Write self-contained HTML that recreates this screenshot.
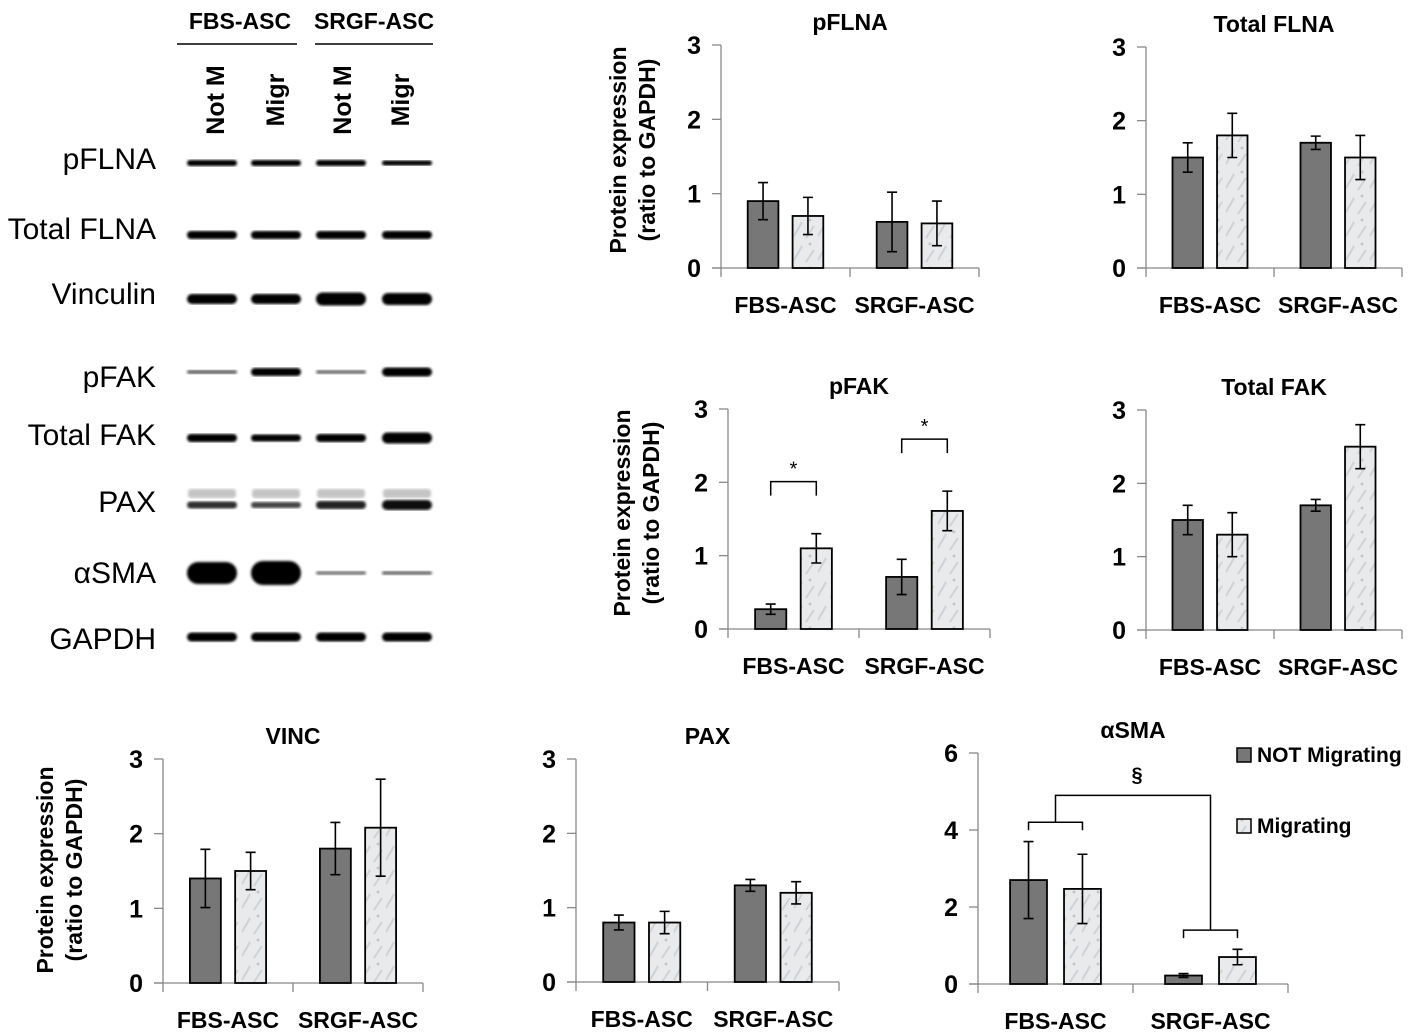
<!DOCTYPE html>
<html><head><meta charset="utf-8"><style>
html,body{margin:0;padding:0;background:#fff;}
svg{display:block;}
text{font-family:"Liberation Sans",sans-serif;}
</style></head><body>
<svg id="fig" width="1417" height="1032" viewBox="0 0 1417 1032" xmlns="http://www.w3.org/2000/svg">
<defs>
<pattern id="tex" width="24" height="24" patternUnits="userSpaceOnUse">
<rect width="24" height="24" fill="#e8eaec"/>
<path d="M2 20 L10 6 M14 22 L22 10" stroke="#cfd2d5" stroke-width="2"/>
<circle cx="18" cy="4" r="1.5" fill="#c4c7ca"/>
</pattern>
<filter id="blur"><feGaussianBlur stdDeviation="1.3"/></filter>
</defs>
<g id="blot"></g>
<g id="charts"></g>
</svg>
<script>
const NS="http://www.w3.org/2000/svg";
function mk(tag,attrs,parent,txt){const e=document.createElementNS(NS,tag);for(const k in attrs)e.setAttribute(k,attrs[k]);if(txt!==undefined)e.textContent=txt;parent.appendChild(e);return e;}

// ---------- Western blot ----------
const blotLabels=["pFLNA","Total FLNA","Vinculin","pFAK","Total FAK","PAX","\u03b1SMA","GAPDH"];
const blotRowY=[163,235,299,372,438,505,573,637];
const blotLabelY=[169,239,304,387,445,512,583,649];
const laneX=[212,276,341,407];
const bandH=[[6,6,6,5],[8,8,8,8],[10,10,13,12],[4,8,4,9],[8,7,8,11],[7,6,8,10],[22,24,4,4],[9,9,9,9]];
const bandDark=[[1,1,1,1],[1,1,1,1],[1,1,1,1],[.55,1,.5,1],[1,1,1,1],[.8,.7,.85,.95],[1,1,.45,.5],[1,1,1,1]];
const blot=document.getElementById('blot');
const hdr=[["FBS-ASC",240,177,297],["SRGF-ASC",374,315,433]];
hdr.forEach(h=>{
  const t=mk('text',{x:h[1],y:29,'text-anchor':'middle','font-size':23,'font-weight':'bold'},blot,h[0]);
  
  
  const l=mk('line',{x1:h[2],x2:h[3],y1:44,y2:44,stroke:'#000','stroke-width':1.5},blot);
  
  
});
const laneLbl=["Not M","Migr","Not M","Migr"];
laneLbl.forEach((s,i)=>{
  const x=[224,284,351,409][i];
  const t=mk('text',{x:0,y:0,'text-anchor':'middle','font-size':25,'font-weight':'bold',transform:`translate(${x},100) rotate(-90)`},blot,s);
  
  
});
blotLabels.forEach((s,r)=>{
  const t=mk('text',{x:156,y:blotLabelY[r],'text-anchor':'end','font-size':30},blot,s);
  
  
  laneX.forEach((x,i)=>{
    const h=bandH[r][i], d=bandDark[r][i];
    const g=Math.round(255*(1-d)*0.9);
    const e=mk('rect',{x:x-25,y:blotRowY[r]-h/2,width:50,height:h,rx:h/2,fill:`rgb(${g},${g},${g})`,filter:'url(#blur)'},blot);
    
    
    if(r===5){const e2=mk('rect',{x:x-24,y:blotRowY[r]-16,width:48,height:9,rx:3,fill:'#c4c4c4',filter:'url(#blur)'},blot);
      
      }
  });
});

// ---------- Bar charts ----------
const categories=["FBS-ASC","SRGF-ASC"];
const pflnaNot=[0.9,0.62], pflnaNotErr=[0.25,0.4], pflnaMig=[0.7,0.6], pflnaMigErr=[0.25,0.3];
const tflnaNot=[1.5,1.7], tflnaNotErr=[0.2,0.09], tflnaMig=[1.8,1.5], tflnaMigErr=[0.3,0.3];
const pfakNot=[0.27,0.71], pfakNotErr=[0.07,0.24], pfakMig=[1.1,1.61], pfakMigErr=[0.2,0.27];
const tfakNot=[1.5,1.7], tfakNotErr=[0.2,0.08], tfakMig=[1.3,2.5], tfakMigErr=[0.3,0.3];
const vincNot=[1.4,1.8], vincNotErr=[0.39,0.35], vincMig=[1.5,2.08], vincMigErr=[0.25,0.65];
const paxNot=[0.8,1.3], paxNotErr=[0.1,0.08], paxMig=[0.8,1.2], paxMigErr=[0.15,0.15];
const smaNot=[2.7,0.22], smaNotErr=[1.0,0.05], smaMig=[2.47,0.7], smaMigErr=[0.9,0.2];
const ticks3=[0,1,2,3], ticks6=[0,2,4,6];
const legendLabels=["NOT Migrating","Migrating"];

const charts=[
 {name:'pflna',title:'pFLNA',x0:721,x1:979,yT:45,yB:268,max:3,ticks:ticks3,nv:pflnaNot,ne:pflnaNotErr,mv:pflnaMig,me:pflnaMigErr,ytitle:[618,150]},
 {name:'total-flna',title:'Total FLNA',x0:1146,x1:1402,yT:47,yB:268,max:3,ticks:ticks3,nv:tflnaNot,ne:tflnaNotErr,mv:tflnaMig,me:tflnaMigErr},
 {name:'pfak',title:'pFAK',x0:728,x1:990,yT:409,yB:629,max:3,ticks:ticks3,nv:pfakNot,ne:pfakNotErr,mv:pfakMig,me:pfakMigErr,ytitle:[622,513],sig:true},
 {name:'total-fak',title:'Total FAK',x0:1146,x1:1402,yT:410,yB:630,max:3,ticks:ticks3,nv:tfakNot,ne:tfakNotErr,mv:tfakMig,me:tfakMigErr},
 {name:'vinc',title:'VINC',x0:163,x1:423,yT:759,yB:983,max:3,ticks:ticks3,nv:vincNot,ne:vincNotErr,mv:vincMig,me:vincMigErr,ytitle:[45,870]},
 {name:'pax',title:'PAX',x0:576,x1:839,yT:759,yB:982,max:3,ticks:ticks3,nv:paxNot,ne:paxNotErr,mv:paxMig,me:paxMigErr},
 {name:'asma',title:'\u03b1SMA',x0:978,x1:1288,yT:753,yB:984,max:6,ticks:ticks6,nv:smaNot,ne:smaNotErr,mv:smaMig,me:smaMigErr,smaSig:true,legend:true},
];
const root=document.getElementById('charts');
charts.forEach(c=>{
  const g=mk('g',{},root);
  
  
  const W=c.x1-c.x0;
  const y=v=>c.yB-(v/c.max)*(c.yB-c.yT);
  const catC=i=>c.x0+W*(i+0.5)/categories.length;
  const bw=W*0.119, off=W*0.087;
  const t=mk('text',{x:(c.x0+c.x1)/2,y:c.yT-15,'text-anchor':'middle','font-size':23,'font-weight':'bold'},g,c.title);
  
  
  const ya=mk('line',{x1:c.x0,x2:c.x0,y1:c.yT,y2:c.yB+9,stroke:'#888','stroke-width':1.3},g);
  
  
  const xa=mk('line',{x1:c.x0-9,x2:c.x1,y1:c.yB,y2:c.yB,stroke:'#888','stroke-width':1.3},g);
  
  
  [c.x0+W/2,c.x1].forEach(x=>{const tk=mk('line',{x1:x,x2:x,y1:c.yB,y2:c.yB+9,stroke:'#888','stroke-width':1.3},g);
    
    });
  c.ticks.forEach(v=>{
    const tk=mk('line',{x1:c.x0-9,x2:c.x0,y1:y(v),y2:y(v),stroke:'#888','stroke-width':1.3},g);
    
    
    const tl=mk('text',{x:c.x0-20,y:y(v)+9,'text-anchor':'end','font-size':25,'font-weight':'bold'},g,String(v));
    
    
  });
  categories.forEach((s,i)=>{
    const cl=mk('text',{x:catC(i),y:c.yB+45,'text-anchor':'middle','font-size':23,'font-weight':'bold'},g,s);
    
    
    [[c.nv,c.ne,-1,'#777777','not-migrating'],[c.mv,c.me,1,'url(#tex)','migrating']].forEach(sr=>{
      const cx=catC(i)+sr[2]*off, v=sr[0][i], e=sr[1][i];
      const b=mk('rect',{x:cx-bw/2,y:y(v),width:bw,height:c.yB-y(v),fill:sr[3],stroke:'#000','stroke-width':1.8},g);
      
      
      const eb=mk('path',{d:`M${cx} ${y(v+e)}V${y(v-e)}M${cx-5} ${y(v+e)}H${cx+5}M${cx-5} ${y(v-e)}H${cx+5}`,stroke:'#000','stroke-width':1.6,fill:'none'},g);
      
      
    });
  });
  if(c.ytitle){
    const yt=mk('text',{'text-anchor':'middle','font-size':23,'font-weight':'bold',transform:`translate(${c.ytitle[0]+8},${c.ytitle[1]}) rotate(-90)`},g);
    
    
    mk('tspan',{x:0,dy:0},yt,'Protein expression');
    mk('tspan',{x:0,dy:29},yt,'(ratio to GAPDH)');
  }
  if(c.sig){
    categories.forEach((s,i)=>{
      const a=catC(i)-off,b2=catC(i)+off;
      const top=Math.max(c.nv[i]+c.ne[i],c.mv[i]+c.me[i]);
      const yy=y(top)-52;
      const br=mk('path',{d:`M${a} ${yy+14}V${yy}H${b2}V${yy+14}`,stroke:'#000','stroke-width':1.5,fill:'none'},g);
      
      
      const st=mk('text',{x:(a+b2)/2,y:yy-6,'text-anchor':'middle','font-size':20},g,'*');
      
      
    });
  }
  if(c.smaSig){
    const a0=catC(0)-off,a1=catC(0)+off,b0=catC(1)-off,b1=catC(1)+off;
    const yA=y(4.2), yB2=y(1.4), yTop=y(4.9);
    const m0=(a0+a1)/2, m1=(b0+b1)/2;
    const br=mk('path',{d:`M${a0} ${yA+8}V${yA}H${a1}V${yA+8}M${m0} ${yA}V${yTop}H${m1}V${yB2}M${b0} ${yB2+8}V${yB2}H${b1}V${yB2+8}`,stroke:'#000','stroke-width':1.5,fill:'none'},g);
    
    
    const st=mk('text',{x:(m0+m1)/2+4,y:yTop-14,'text-anchor':'middle','font-size':20,'font-weight':'bold'},g,'\u00a7');
    
    
  }
  if(c.legend){
    legendLabels.forEach((s,i)=>{
      const ly=[755,826][i];
      const sw=mk('rect',{x:1237,y:ly-7,width:14,height:14,fill:i?'url(#tex)':'#777777',stroke:'#000','stroke-width':1.5},g);
      
      
      const lt=mk('text',{x:1257,y:ly+7,'font-size':21,'font-weight':'bold'},g,s);
      
      
    });
  }
});
</script>
</body></html>
